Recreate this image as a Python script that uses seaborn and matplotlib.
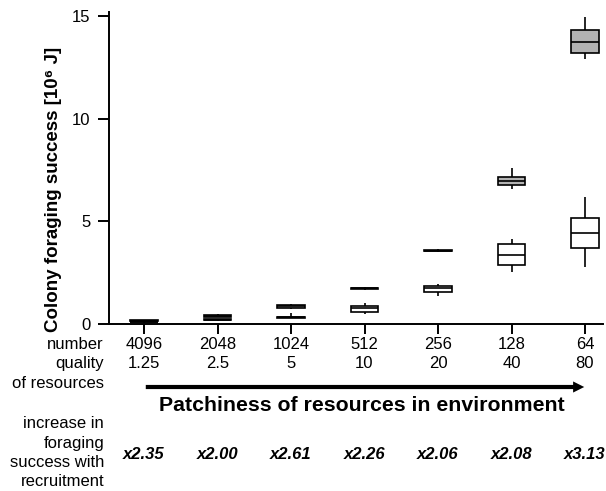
import numpy as np
import pandas as pd
import matplotlib
matplotlib.use("Agg")
import matplotlib.pyplot as plt
import matplotlib.transforms as mtransforms
from matplotlib.patches import FancyArrowPatch
import seaborn as sns

# ---- data ----
numbers = ["4096", "2048", "1024", "512", "256", "128", "64"]
qualities = ["1.25", "2.5", "5", "10", "20", "40", "80"]
multipliers = ["x2.35", "x2.00", "x2.61", "x2.26", "x2.06", "x2.08", "x3.13"]
# five-number summaries: whisker low, Q1, median, Q3, whisker high
with_recruit = [
    [0.10, 0.12, 0.14, 0.16, 0.18],
    [0.30, 0.33, 0.36, 0.40, 0.45],
    [0.72, 0.76, 0.83, 0.90, 0.93],
    [1.64, 1.69, 1.72, 1.75, 1.80],
    [3.47, 3.52, 3.55, 3.58, 3.63],
    [6.56, 6.77, 6.96, 7.14, 7.58],
    [12.90, 13.21, 13.75, 14.34, 14.97],
]
without_recruit = [
    [0.03, 0.05, 0.06, 0.07, 0.09],
    [0.12, 0.15, 0.18, 0.21, 0.24],
    [0.25, 0.28, 0.32, 0.34, 0.49],
    [0.47, 0.54, 0.76, 0.83, 0.99],
    [1.32, 1.56, 1.73, 1.81, 1.93],
    [2.53, 2.87, 3.33, 3.87, 4.11],
    [2.75, 3.67, 4.40, 5.15, 6.18],
]
row_labels = ["number", "quality", "of resources"]
side_labels = ["increase in", "foraging", "success with", "recruitment"]

rows = []
for n, w, wo in zip(numbers, with_recruit, without_recruit):
    for v in w:
        rows.append((n, "with", v))
    for v in wo:
        rows.append((n, "without", v))
df = pd.DataFrame(rows, columns=["number", "cond", "value"])

sns.set_style("ticks")
plt.rcParams["font.family"] = ["Liberation Sans", "DejaVu Sans"]
plt.rcParams["text.color"] = "black"
plt.rcParams["axes.labelcolor"] = "black"
plt.rcParams["xtick.color"] = "black"
plt.rcParams["ytick.color"] = "black"

W, H = 606, 491
fig = plt.figure(figsize=(W / 100, H / 100), dpi=100)
axl, axr, axb, axt = 108.5, 603, 323.5, 12
ax = fig.add_axes([axl / W, 1 - axb / H, (axr - axl) / W, (axb - axt) / H])

sns.boxplot(data=df, x="number", y="value", hue="cond", order=numbers,
            hue_order=["with", "without"],
            palette={"with": "#b3b3b3", "without": "white"},
            dodge=False, width=0.37, whis=(0, 100), linecolor="black",
            linewidth=1.2, showcaps=False, legend=False, ax=ax)

ax.set_xlim(-(144 - axl) / 73.5, 6 + (axr - 585) / 73.5)
ax.set_ylim(0, 15.2)
ax.set_yticks([0, 5, 10, 15])
ax.set_xticks(range(len(numbers)))
ax.set_xticklabels([])
ax.set_xlabel("")
ax.set_ylabel("")
ax.tick_params(axis="y", direction="out", length=8, width=1.4, labelsize=12, pad=5,
               colors="black", labelcolor="black")
ax.tick_params(axis="x", direction="out", length=7, width=1.4, colors="black")
for s in ["top", "right"]:
    ax.spines[s].set_visible(False)
for s in ["left", "bottom"]:
    ax.spines[s].set_linewidth(1.4)
    ax.spines[s].set_color("black")

def fy(y):
    return 1 - y / H

tr = mtransforms.blended_transform_factory(ax.transData, fig.transFigure)
for i, (n, q, m) in enumerate(zip(numbers, qualities, multipliers)):
    ax.text(i, fy(349), n, transform=tr, ha="center", va="baseline", fontsize=12, color="black")
    ax.text(i, fy(368), q, transform=tr, ha="center", va="baseline", fontsize=12, color="black")
    ax.text(i, fy(459), m, transform=tr, ha="center", va="baseline", fontsize=12,
            fontweight="bold", fontstyle="italic", color="black")

for lab, y in zip(row_labels, [349, 368, 388]):
    fig.text(104 / W, fy(y), lab, ha="right", va="baseline", fontsize=12, color="black")
for lab, y in zip(side_labels, [428, 448, 467, 486]):
    fig.text(104 / W, fy(y), lab, ha="right", va="baseline", fontsize=12, color="black")

fig.text(362 / W, fy(411), "Patchiness of resources in environment", ha="center",
         va="baseline", fontsize=15.3, fontweight="bold", color="black")
fig.text(54 / W, fy(189), "Colony foraging success [10\u2076 J]", rotation=90,
         ha="center", va="center", fontsize=13.5, fontweight="bold", color="black")

arrow = FancyArrowPatch((143 / W, fy(387)), (587 / W, fy(387)),
                        transform=fig.transFigure,
                        arrowstyle="simple,head_length=0.8,head_width=0.8,tail_width=0.3",
                        mutation_scale=10, linewidth=0, color="black")
fig.patches.append(arrow)

fig.savefig("out.png", dpi=100)
